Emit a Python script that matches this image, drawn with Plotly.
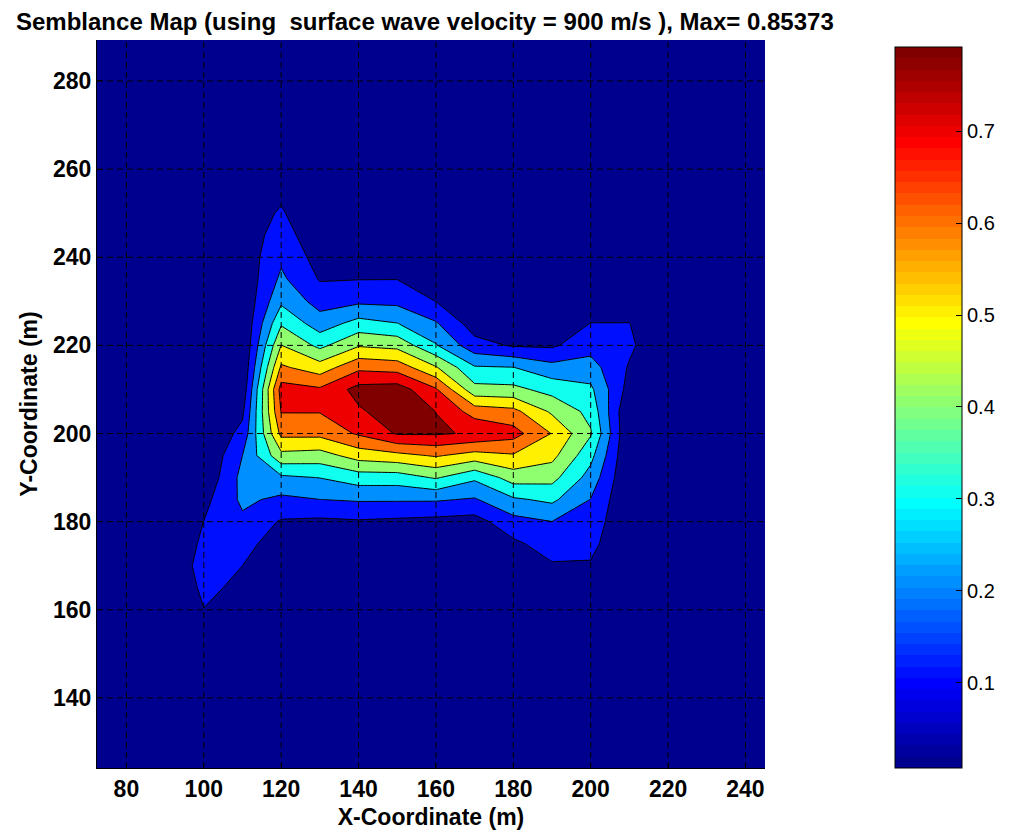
import numpy as np
import plotly.graph_objects as go

# ---------------- data ----------------
x_coords = [90, 100, 110, 120, 130, 140, 150, 160, 170, 180, 190, 200, 210, 220]
y_coords = [150, 155, 160, 165, 170, 175, 180, 185, 190, 195, 200, 205, 210,
            215, 220, 225, 230, 235, 240, 245, 250, 255, 260]

# semblance values, one row per y (150 -> 260), one column per x (90 -> 220)
semblance = [
    [0, 0.02, 0, 0, 0, 0, 0, 0, 0, 0, 0, 0, 0, 0],
    [0, 0.06, 0.01, 0, 0, 0, 0, 0, 0, 0, 0, 0, 0, 0],
    [0, 0.098, 0.04, 0.005, 0.005, 0.005, 0.005, 0.005, 0.005, 0.005, 0.005, 0.01, 0, 0],
    [0, 0.12, 0.08, 0.01, 0.01, 0.01, 0.01, 0.01, 0.01, 0.01, 0.02, 0.03, 0, 0],
    [0.03, 0.13, 0.10, 0.02, 0.02, 0.02, 0.02, 0.02, 0.02, 0.03, 0.09, 0.09, 0, 0],
    [0, 0.12, 0.14, 0.04, 0.04, 0.04, 0.04, 0.04, 0.03, 0.08, 0.146, 0.129, 0, 0],
    [0, 0.101, 0.18, 0.09, 0.08, 0.09, 0.08, 0.07, 0.06, 0.166, 0.199, 0.16, 0, 0],
    [0, 0.07, 0.22, 0.178, 0.199, 0.21, 0.21, 0.21, 0.19, 0.285, 0.32, 0.197, 0, 0],
    [0, 0.017, 0.23, 0.281, 0.302, 0.35, 0.35, 0.41, 0.318, 0.446, 0.433, 0.26, 0, 0],
    [0, 0, 0.20, 0.471, 0.457, 0.543, 0.57, 0.61, 0.56, 0.59, 0.53, 0.33, 0, 0],
    [0, 0, 0.13, 0.626, 0.628, 0.713, 0.81, 0.81, 0.79, 0.739, 0.596, 0.41, 0, 0],
    [0, 0, 0.08, 0.705, 0.705, 0.786, 0.85373, 0.799, 0.657, 0.63, 0.483, 0.37, 0, 0],
    [0, 0, 0.03, 0.74, 0.715, 0.835, 0.85, 0.712, 0.433, 0.426, 0.365, 0.32, 0.06, 0],
    [0, 0, 0.01, 0.616, 0.546, 0.676, 0.657, 0.509, 0.31, 0.302, 0.233, 0.24, 0.09, 0],
    [0, 0, 0, 0.502, 0.374, 0.49, 0.469, 0.308, 0.136, 0.09, 0.085, 0.162, 0.12, 0],
    [0, 0, 0.005, 0.387, 0.247, 0.336, 0.302, 0.21, 0.05, 0.03, 0.03, 0.102, 0.102, 0],
    [0, 0, 0.011, 0.281, 0.16, 0.181, 0.175, 0.099, 0.02, 0.01, 0.01, 0.03, 0.03, 0],
    [0, 0, 0.02, 0.22, 0.093, 0.098, 0.099, 0.05, 0.01, 0, 0, 0.01, 0, 0],
    [0, 0, 0.035, 0.18, 0.06, 0.05, 0.04, 0.02, 0, 0, 0, 0, 0, 0],
    [0, 0, 0.04, 0.145, 0.03, 0.03, 0.02, 0.01, 0, 0, 0, 0, 0, 0],
    [0, 0, 0.05, 0.11, 0.02, 0.02, 0.01, 0, 0, 0, 0, 0, 0, 0],
    [0, 0, 0.03, 0.08, 0.01, 0.01, 0, 0, 0, 0, 0, 0, 0, 0],
    [0, 0, 0.01, 0.05, 0, 0, 0, 0, 0, 0, 0, 0, 0, 0],
]

contour_levels = [0.1, 0.2, 0.3, 0.4, 0.5, 0.6, 0.7, 0.8]
fill_clim = [0.0, 0.8]
cbar_min, cbar_max = 0.007, 0.7917
cbar_ticks = [0.1, 0.2, 0.3, 0.4, 0.5, 0.6, 0.7]
x_ticks = [80, 100, 120, 140, 160, 180, 200, 220, 240]
y_ticks = [140, 160, 180, 200, 220, 240, 260, 280]
x_range = [72.4, 245.05]
y_range = [124.1, 289.3]

title_text = "Semblance Map (using\u00a0 surface wave velocity = 900 m/s ), Max= 0.85373"


# ---------------- MATLAB jet(64) colormap ----------------
def jet(m=64):
    n = int(np.ceil(m / 4))
    u = np.concatenate([np.arange(1, n + 1) / n, np.ones(n - 1), np.arange(n, 0, -1) / n])
    g = int(np.ceil(n / 2)) - (1 if m % 4 == 1 else 0) + np.arange(1, len(u) + 1)
    r = g + n
    b = g - n
    J = np.zeros((m, 3))
    for idx, col in ((r, 0), (g, 1), (b, 2)):
        mask = (idx >= 1) & (idx <= m)
        J[idx[mask] - 1, col] = u[mask]
    return J


JET = jet(64)


def rgb(c):
    return "rgb(%d,%d,%d)" % tuple(int(round(v * 255)) for v in c)


def jet_index(v, lo, hi):
    i = int(np.floor((v - lo) / (hi - lo) * 64 + 1e-9))
    return min(max(i, 0), 63)


# band colors: background (min) + one per contour level
band_vals = [fill_clim[0]] + contour_levels
nb = len(band_vals) - 1
band_scale = [[k / nb, rgb(JET[jet_index(v, *fill_clim)])] for k, v in enumerate(band_vals)]

jet_scale = []
for i in range(64):
    jet_scale.append([i / 64, rgb(JET[i])])
    jet_scale.append([(i + 1) / 64, rgb(JET[i])])

navy = rgb(JET[0])

fig = go.Figure()
fig.add_trace(go.Contour(
    x=x_coords, y=y_coords, z=semblance,
    autocontour=False,
    contours=dict(start=contour_levels[0], end=contour_levels[-1],
                  size=0.1, coloring="fill", showlines=True),
    line=dict(color="black", width=1, smoothing=0),
    colorscale=band_scale, showscale=False, hoverinfo="skip",
))

fig.add_trace(go.Scatter(
    x=[None, None], y=[None, None], mode="markers", showlegend=False,
    hoverinfo="skip",
    marker=dict(
        color=[cbar_min, cbar_max], colorscale=jet_scale,
        cmin=cbar_min, cmax=cbar_max, showscale=True,
        colorbar=dict(
            thickness=67, thicknessmode="pixels",
            len=721, lenmode="pixels",
            x=1.1946, xanchor="left", y=0, yanchor="bottom",
            xpad=0, ypad=0,
            outlinewidth=1, outlinecolor="black",
            ticks="inside", ticklen=6, tickcolor="black", tickwidth=1,
            tickvals=cbar_ticks, ticktext=[str(t) for t in cbar_ticks],
            tickfont=dict(family="Liberation Sans, Arial", size=20, color="black"),
        ),
    ),
))

shapes = []
for xv in x_ticks:
    shapes.append(dict(type="line", xref="x", yref="paper", x0=xv, x1=xv, y0=0, y1=1,
                       line=dict(color="black", width=1, dash="6px,4px"), layer="above"))
for yv in y_ticks:
    shapes.append(dict(type="line", xref="paper", yref="y", x0=0, x1=1, y0=yv, y1=yv,
                       line=dict(color="black", width=1, dash="6px,4px"), layer="above"))

bold = dict(family="Liberation Sans, Arial", size=23, color="black", weight="bold")

fig.update_layout(
    width=1010, height=835,
    margin=dict(l=97, r=245, t=40, b=67, autoexpand=False),
    paper_bgcolor="white", plot_bgcolor=navy,
    title=dict(text=title_text, x=16 / 1010, xref="container", xanchor="left",
               y=1 - 22 / 835, yref="container", yanchor="middle",
               font=dict(family="Liberation Sans, Arial", size=24, color="black", weight="bold")),
    xaxis=dict(range=x_range, tickvals=x_ticks, ticks="inside", ticklen=5,
               tickcolor="black", showline=True, linecolor="black", linewidth=1,
               mirror=False, showgrid=False, zeroline=False, tickfont=bold,
               title=dict(text="X-Coordinate (m)", font=bold, standoff=8),
               automargin=False),
    yaxis=dict(range=y_range, tickvals=y_ticks, ticks="inside", ticklen=5,
               tickcolor="black", showline=True, linecolor="black", linewidth=1,
               mirror=False, showgrid=False, zeroline=False, tickfont=bold,
               title=dict(text="Y-Coordinate (m)", font=bold, standoff=8),
               automargin=False),
    shapes=shapes,
)

fig.write_html("out.html")
